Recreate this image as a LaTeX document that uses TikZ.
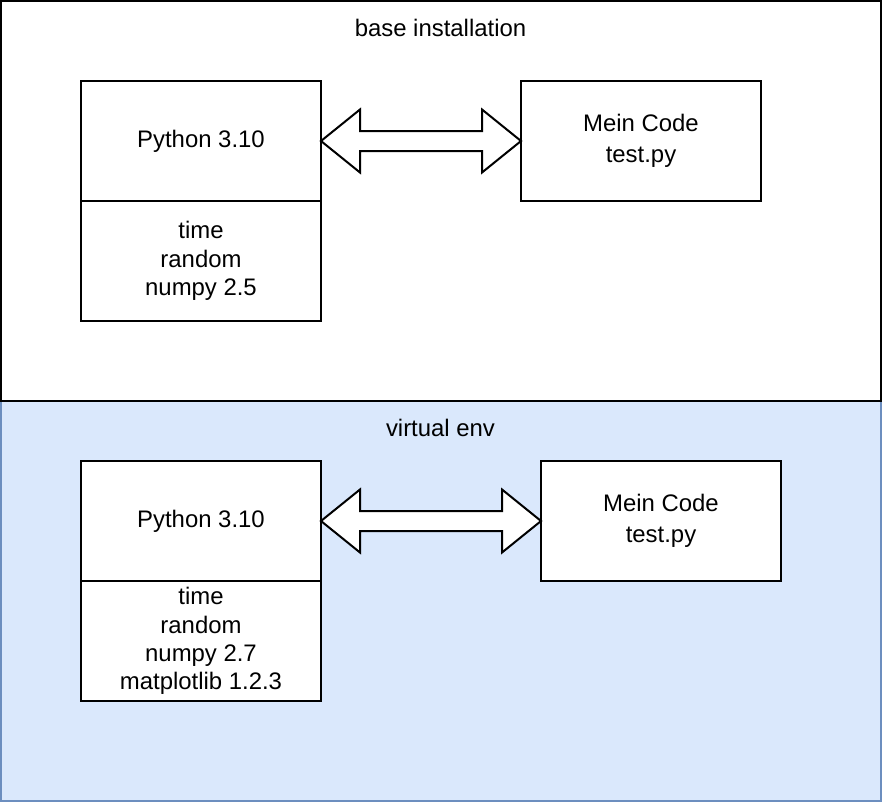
\documentclass[tikz,border=0pt]{standalone}
\usepackage{fontspec}
\setmainfont{Liberation Sans}
\usetikzlibrary{positioning, calc}
\definecolor{envfill}{HTML}{DAE8FC}
\definecolor{envline}{HTML}{6C8EBF}
\tikzset{box/.style={draw, fill=white, line width=1bp, outer sep=0pt,
            minimum width=120bp, minimum height=60bp, align=center}}
\tikzset{ts/.style={font=\fontsize{12}{14.4}\selectfont}}
\tikzset{dblarrow/.style={draw, fill=white, line width=1bp, line join=miter}}
% block double arrow from node #1 to node #2
\newcommand{\dblarr}[2]{
    \draw[dblarrow] (#1.east) -- ++(39,-31.5) -- ++(0,21.5)
        -- ($(#2.west)+(-39,-10)$) -- ++(0,-21.5) -- (#2.west)
        -- ++(-39,31.5) -- ++(0,-21.5) -- ($(#1.east)+(39,10)$)
        -- ++(0,21.5) -- cycle;
}

\begin{document}
\begin{tikzpicture}[x=0.5bp, y=-0.5bp, ts]
    \useasboundingbox (0,0) rectangle (882,802);

    % virtual env container
    \draw[fill=envfill, draw=envline, line width=1bp] (1,401) rectangle (881,801);
    \node(venv) at (440.5,428){virtual env};

    % base installation container
    \draw[line width=1bp] (1,1) rectangle (881,401);
    \node(base) at (440.5,28){base installation};

    % top
    \node(py)[box] at (201,141){Python 3.10};
    \node(libs)[box, below=0pt of py, font=\fontsize{12}{14.3}\selectfont]{time\\random\\numpy 2.5};
    \node(code)[box, right=100bp of py, font=\fontsize{12}{15.4}\selectfont]{Mein Code\\test.py};
    \dblarr{py}{code}

    % bottom
    \node(pyv)[box] at (201,521){Python 3.10};
    \node(libsv)[box, below=0pt of pyv, font=\fontsize{12}{14.2}\selectfont]{time\\random\\numpy 2.7\\matplotlib 1.2.3};
    \node(codev)[box, right=110bp of pyv, font=\fontsize{12}{15.4}\selectfont]{Mein Code\\test.py};
    \dblarr{pyv}{codev}

\end{tikzpicture}
\end{document}
